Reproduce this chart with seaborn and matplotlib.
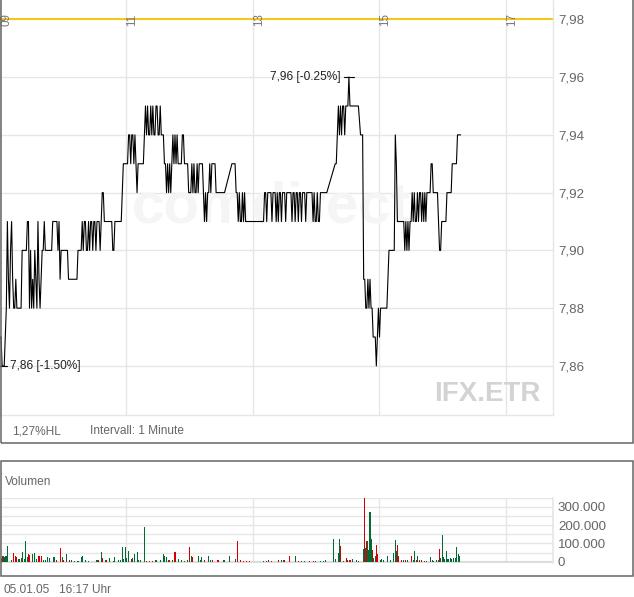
import numpy as np
import pandas as pd
import matplotlib
matplotlib.use("Agg")
import matplotlib.pyplot as plt
from matplotlib.patches import Rectangle
from matplotlib.ticker import FixedLocator, FuncFormatter
import seaborn as sns

nan = np.nan

# last price per minute from 09:00 (nan = no trade in that minute)
price = [
    7.87, 7.87, 7.86, 7.86, 7.86, 7.87, 7.88, 7.91, 7.89, 7.88,
    7.90, 7.91, 7.89, 7.88, 7.88, 7.89, 7.88, 7.88, 7.88, 7.88,
    7.88, 7.90, 7.90, 7.90, 7.90, 7.90, 7.91, 7.91, 7.88, 7.90,
    7.88, 7.89, 7.88, 7.90, 7.89, 7.88, 7.91, 7.89, 7.88, 7.89,
    7.90, 7.90, 7.91, 7.90, 7.90, 7.90, 7.90, 7.90, 7.90, 7.90,
    7.91, 7.91, 7.91, 7.91, 7.91, 7.90, 7.91, 7.89, 7.90, 7.90,
    7.90, 7.90, 7.90, 7.90, 7.90, 7.89, 7.89, 7.89, 7.89, 7.89,
    7.89, 7.89, 7.89, 7.89, 7.90, 7.90, 7.90, 7.90, 7.91, 7.90,
    7.91, 7.91, 7.90, 7.90, 7.91, 7.90, 7.91, 7.91, 7.90, 7.91,
    7.91, 7.90, 7.91, 7.91, 7.91, 7.90, 7.91, 7.92, 7.92, 7.91,
    7.91, 7.91, 7.91, 7.91, 7.91, 7.91, 7.91, 7.90, 7.90, 7.91,
    7.91, 7.91, 7.91, 7.91, 7.91, 7.91, 7.92, 7.93, 7.93, 7.93,
    7.93, 7.93, 7.94, 7.94, 7.93, 7.94, 7.94, 7.93, 7.94, 7.93,
    7.92, 7.93, 7.93, 7.93, 7.93, 7.93, 7.93, 7.94, 7.95, 7.94,
    7.95, 7.94, 7.94, 7.95, 7.94, 7.95, 7.94, 7.94, 7.95, 7.95,
    7.94, 7.94, 7.95, 7.94, 7.94, 7.94, 7.93, 7.93, 7.92, 7.93,
    7.92, 7.93, 7.92, 7.93, 7.94, 7.93, 7.94, 7.93, 7.94, 7.93,
    7.93, 7.93, 7.93, 7.94, 7.94, 7.93, 7.93, 7.93, 7.93, 7.92,
    7.92, 7.92, 7.93, 7.92, 7.93, 7.92, 7.92, 7.93, 7.92, 7.93,
    7.93, 7.93, 7.93, 7.92, 7.91, 7.92, 7.91, 7.92, 7.92, 7.93,
    7.92, 7.93, 7.93, 7.93, 7.93, 7.92, 7.92, 7.92, 7.92, 7.92,
    7.92, 7.92, 7.92, 7.92, nan, nan, nan, nan, nan, nan,
    7.93, 7.93, 7.93, 7.93, 7.92, 7.92, 7.91, 7.92, 7.91, 7.91,
    7.92, 7.91, 7.92, 7.91, 7.91, 7.91, 7.91, 7.91, 7.91, 7.91,
    7.91, 7.91, 7.91, 7.91, 7.91, 7.91, 7.91, 7.91, 7.91, 7.91,
    7.91, 7.92, 7.92, 7.91, 7.92, 7.92, 7.92, 7.92, 7.91, 7.92,
    7.92, 7.92, 7.91, 7.92, 7.91, 7.92, 7.92, 7.91, 7.92, 7.92,
    7.92, 7.91, 7.92, 7.92, 7.92, 7.92, 7.92, 7.91, 7.92, 7.92,
    7.91, 7.92, 7.92, 7.91, 7.92, 7.92, 7.91, 7.92, 7.92, 7.92,
    7.91, 7.92, 7.92, 7.92, 7.92, 7.92, 7.92, 7.91, 7.92, 7.91,
    7.91, 7.92, 7.91, 7.91, 7.92, 7.92, 7.92, 7.92, 7.92, 7.92,
    7.92, nan, nan, nan, nan, nan, nan, nan, 7.93, 7.93,
    7.94, 7.95, 7.94, 7.95, 7.94, 7.95, 7.95, 7.94, 7.95, 7.95,
    7.95, 7.96, 7.95, 7.95, 7.95, 7.95, 7.95, 7.95, 7.95, 7.95,
    7.95, nan, 7.94, 7.94, 7.94, 7.89, 7.89, 7.88, 7.88, 7.89,
    7.88, 7.89, 7.88, 7.88, 7.87, 7.87, 7.87, 7.86, 7.87, 7.88,
    7.87, 7.88, 7.88, 7.88, 7.88, 7.88, 7.88, 7.88, 7.89, 7.90,
    7.90, 7.90, 7.90, 7.90, 7.90, 7.94, 7.93, 7.91, 7.91, 7.91,
    7.91, 7.91, 7.91, 7.91, 7.90, 7.91, 7.90, 7.91, 7.90, 7.91,
    7.91, 7.92, 7.91, 7.92, 7.91, 7.91, 7.92, 7.91, 7.92, 7.92,
    7.91, 7.92, 7.91, 7.92, 7.91, 7.92, 7.92, 7.92, 7.92, 7.93,
    7.93, 7.92, 7.92, 7.92, 7.92, 7.92, 7.91, 7.90, 7.90, 7.91,
    7.91, 7.91, 7.91, 7.91, 7.92, 7.92, 7.92, 7.92, 7.92, 7.93,
    7.93, 7.93, 7.93, 7.93, 7.94, 7.94, 7.94, 7.94,
]
prev_close = 7.98
price_ticks = [7.86, 7.88, 7.90, 7.92, 7.94, 7.96, 7.98]
hour_ticks = [9, 11, 13, 15, 17]

# volume bars: minute after 09:00, shares in thousands, 1 = up tick / 0 = down tick
vol_minute = [
    1, 2, 3, 4, 5, 6, 7, 11, 13, 15, 16, 18, 20, 21, 23, 24, 26, 27, 28, 31,
    33, 35, 37, 39, 41, 43, 45, 47, 51, 52, 54, 57, 59, 60, 63, 66, 68, 71, 74, 77,
    78, 81, 84, 92, 93, 96, 97, 100, 101, 104, 108, 109, 112, 114, 116, 117, 119, 120, 122, 125,
    126, 128, 130, 131, 133, 137, 139, 142, 145, 148, 152, 155, 156, 158, 160, 161, 164, 166, 169, 172,
    175, 178, 180, 182, 183, 188, 190, 191, 194, 198, 200, 202, 206, 207, 212, 213, 218, 223, 225, 228,
    231, 234, 237, 250, 253, 255, 258, 264, 267, 269, 270, 275, 280, 283, 286, 289, 294, 297, 299, 304,
    307, 309, 316, 318, 321, 322, 323, 326, 329, 330, 332, 334, 338, 340, 345, 346, 347, 348, 349, 350,
    351, 352, 353, 354, 356, 357, 358, 361, 362, 364, 368, 370, 373, 375, 376, 377, 378, 381, 383, 385,
    387, 390, 392, 393, 395, 396, 398, 400, 403, 405, 408, 410, 411, 414, 416, 417, 418, 420, 421, 422,
    424, 425, 427, 428, 430, 432, 433, 435, 436,
]
vol_thousand = [
    20, 30, 34, 25, 34, 30, 87, 10, 47, 30, 28, 15, 20, 53, 15, 113, 25, 41, 38, 40,
    49, 15, 34, 34, 8, 8, 25, 19, 25, 25, 8, 74, 25, 8, 45, 8, 8, 5, 5, 25,
    34, 8, 5, 10, 10, 55, 19, 10, 12, 19, 5, 28, 8, 10, 79, 15, 79, 20, 57, 15,
    20, 40, 53, 10, 8, 187, 5, 3, 3, 8, 8, 40, 34, 25, 10, 12, 8, 55, 15, 8,
    5, 8, 79, 30, 25, 30, 8, 28, 8, 30, 8, 8, 8, 8, 8, 8, 30, 15, 113, 8,
    5, 5, 5, 5, 5, 10, 5, 12, 10, 12, 10, 30, 30, 5, 5, 5, 5, 5, 5, 5,
    5, 8, 124, 15, 49, 124, 85, 5, 20, 8, 8, 15, 8, 5, 68, 351, 74, 113, 113, 62,
    270, 124, 62, 19, 34, 94, 40, 10, 15, 10, 34, 8, 49, 119, 57, 91, 34, 8, 8, 8,
    10, 30, 10, 60, 10, 30, 10, 12, 5, 5, 28, 8, 5, 10, 10, 68, 19, 147, 28, 15,
    57, 15, 19, 15, 19, 20, 79, 40, 30,
]
vol_up = [
    1, 1, 0, 1, 1, 1, 1, 1, 0, 0, 0, 1, 1, 1, 1, 1, 1, 0, 0, 1,
    1, 1, 0, 0, 1, 1, 1, 1, 1, 1, 0, 0, 1, 0, 1, 0, 1, 1, 1, 1,
    1, 1, 1, 1, 0, 1, 0, 1, 0, 1, 1, 1, 1, 1, 1, 1, 1, 1, 1, 0,
    1, 1, 1, 1, 1, 1, 0, 0, 0, 1, 1, 1, 1, 1, 1, 0, 1, 0, 1, 1,
    1, 1, 0, 1, 0, 1, 1, 1, 0, 1, 1, 0, 0, 0, 1, 1, 1, 1, 0, 0,
    0, 0, 0, 1, 1, 0, 1, 0, 1, 1, 0, 0, 1, 0, 1, 1, 0, 0, 1, 1,
    1, 1, 1, 1, 1, 1, 0, 1, 0, 1, 0, 1, 1, 0, 1, 0, 1, 0, 1, 1,
    1, 1, 0, 1, 1, 0, 0, 1, 1, 1, 1, 1, 1, 1, 1, 0, 0, 0, 1, 0,
    1, 0, 1, 1, 0, 1, 1, 0, 1, 0, 1, 1, 1, 1, 1, 0, 1, 1, 1, 1,
    1, 1, 1, 1, 1, 1, 1, 1, 1,
]

W, H = 634, 597
GRID = "#e6e6e6"
TXT = "#666666"


def box(x0, y0, x1, y1):
    # pixel box (y from top) -> figure fraction rect
    return [x0 / W, 1 - y1 / H, (x1 - x0) / W, (y1 - y0) / H]


sns.set_theme(style="white")
plt.rcParams["font.family"] = ["Liberation Sans", "DejaVu Sans"]

fig = plt.figure(figsize=(W / 100, H / 100), dpi=100)
ax = fig.add_axes(box(0, 0, 553, 415))
axv = fig.add_axes(box(0, 497.5, 553, 562.5))

df = pd.DataFrame({"minute": np.arange(len(price)), "price": price}).dropna()
vdf = pd.DataFrame({
    "minute": vol_minute,
    "volume": np.array(vol_thousand) * 1000,
    "side": ["up" if u else "down" for u in vol_up],
})
hour_pos = [(h - 9) * 60 for h in hour_ticks]
x_end = 524.6

# ---- price panel
sns.lineplot(data=df, x="minute", y="price", ax=ax, color="black",
             linewidth=0.8, estimator=None, zorder=3)
ax.axhline(prev_close, color="#f5c400", lw=1.3, zorder=2)
ax.set_xlim(0, x_end)
ax.set_ylim(7.8430, 7.9867)
ax.set_xticks(hour_pos)
ax.set_yticks(price_ticks)
ax.yaxis.tick_right()
ax.yaxis.set_major_formatter(FuncFormatter(lambda v, _: f"{v:.2f}".replace(".", ",")))
ax.tick_params(axis="y", length=0, pad=3.6, labelsize=9.6, labelcolor=TXT)
ax.tick_params(axis="x", length=0, labelbottom=False)
ax.set_xlabel("")
ax.set_ylabel("")
ax.set_axisbelow(True)
ax.grid(True, color=GRID, lw=1)
for side in ["left", "top"]:
    ax.spines[side].set_visible(False)
for side in ["right", "bottom"]:
    ax.spines[side].set_color(GRID)
    ax.spines[side].set_linewidth(1)

for h, pos in zip(hour_ticks, hour_pos):
    ax.annotate(f"{h:02d}", xy=(pos, 1), xycoords=("data", "axes fraction"),
                xytext=(6, -20), textcoords="offset pixels", rotation=90,
                ha="center", va="center", fontsize=8.4, color="#777777",
                annotation_clip=False)

# high / low markers
imax, pmax = df["price"].idxmax(), df["price"].max()
imin, pmin = df["price"].idxmin(), df["price"].min()
for i, p, dx, ha in [(imax, pmax, -8, "right"), (imin, pmin, 8, "left")]:
    ax.plot([i - 4.7, i + 4.7], [p, p], color="black", lw=0.8, zorder=3)
    label = f"{p:.2f}".replace(".", ",") + f" [{(p / prev_close - 1) * 100:.2f}%]"
    ax.annotate(label, xy=(i, p), xytext=(dx, 0), textcoords="offset pixels",
                ha=ha, va="center", fontsize=8.6, color="#222222")

ax.text(271 / W, 1 - 222 / H, "comdirect", transform=fig.transFigure,
        ha="center", va="baseline", fontsize=42, fontweight="bold",
        color="#f5f5f5", zorder=0.6)
ax.text(541 / W, 1 - 394 / H, "IFX.ETR", transform=fig.transFigure,
        ha="right", va="center", fontsize=20, fontweight="bold",
        color="#d3d3d3", zorder=0.6)

hl = (pmax - pmin) / pmin * 100
fig.text(12 / W, 1 - 431 / H, f"{hl:.2f}".replace(".", ",") + "%HL",
         va="center", fontsize=8.6, color=TXT)
fig.text(90 / W, 1 - 431 / H, "Intervall: 1 Minute", va="center",
         fontsize=8.6, color=TXT)

# ---- volume panel
sns.histplot(data=vdf, x="minute", weights="volume", hue="side",
             hue_order=["up", "down"],
             palette={"up": "#006b35", "down": "#d40000"},
             binwidth=1, binrange=(-0.5, 437.5), multiple="layer",
             alpha=1, linewidth=0, shrink=1.0, antialiased=False,
             legend=False, ax=axv, zorder=3)
axv.axhline(0, color="#dcdcdc", lw=1.6, zorder=1)
axv.set_xlim(0, x_end)
axv.set_ylim(-4000, 350000)
axv.set_xticks(hour_pos)
axv.yaxis.set_major_locator(FixedLocator([0, 100000, 200000, 300000]))
axv.yaxis.set_minor_locator(FixedLocator([50000, 150000, 250000, 350000]))
axv.yaxis.tick_right()
axv.yaxis.set_major_formatter(FuncFormatter(lambda v, _: f"{int(v):,}".replace(",", ".")))
axv.tick_params(axis="y", which="both", length=0, pad=3.6, labelsize=9.6, labelcolor=TXT)
axv.tick_params(axis="x", length=0, labelbottom=False)
axv.set_xlabel("")
axv.set_ylabel("")
axv.set_axisbelow(True)
axv.grid(True, which="both", axis="y", color=GRID, lw=1)
axv.grid(True, which="major", axis="x", color=GRID, lw=1)
for side in ["left", "top", "bottom"]:
    axv.spines[side].set_visible(False)
axv.spines["right"].set_color(GRID)

fig.text(5 / W, 1 - 482 / H, "Volumen", va="center", fontsize=8.6, color=TXT)
fig.text(3 / W, 1 - 590 / H, "05.01.05", va="center", fontsize=8.6, color=TXT)
fig.text(59 / W, 1 - 590 / H, "16:17 Uhr", va="center", fontsize=8.6, color=TXT)

# panel frames
fig.add_artist(Rectangle((0.75 / W, 1 - 443 / H), 631.75 / W, 443 / H + 0.05,
                         fill=False, edgecolor="#666666", lw=1.1,
                         transform=fig.transFigure, clip_on=False))
fig.add_artist(Rectangle((0.75 / W, 1 - 575.5 / H), 631.75 / W, 115 / H,
                         fill=False, edgecolor="#666666", lw=1.1,
                         transform=fig.transFigure, clip_on=False))

fig.savefig("out.png", dpi=100)
